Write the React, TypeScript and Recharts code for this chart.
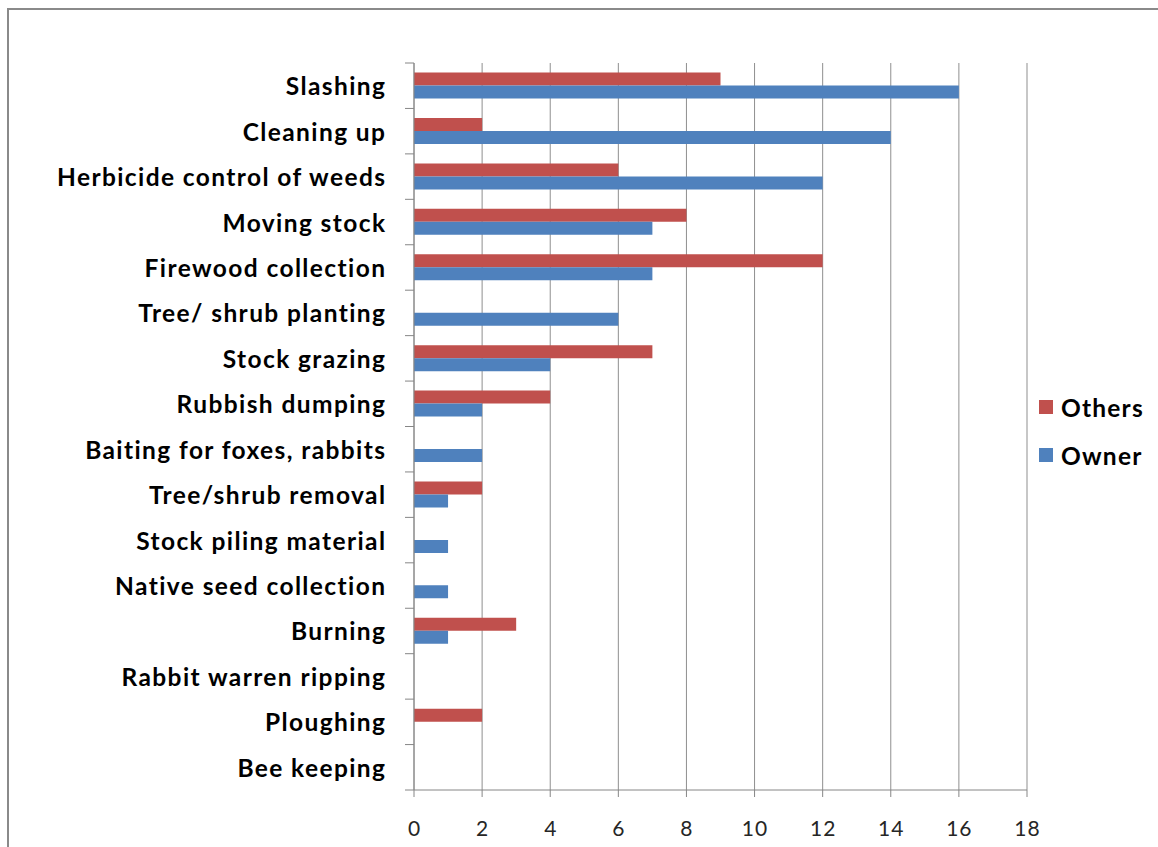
import React from "react";
import { BarChart, Bar, XAxis, YAxis, CartesianGrid, Legend } from "recharts";

const categories = [
  "Slashing",
  "Cleaning up",
  "Herbicide control of weeds",
  "Moving stock",
  "Firewood collection",
  "Tree/ shrub planting",
  "Stock grazing",
  "Rubbish dumping",
  "Baiting for foxes, rabbits",
  "Tree/shrub removal",
  "Stock piling material",
  "Native seed collection",
  "Burning",
  "Rabbit warren ripping",
  "Ploughing",
  "Bee keeping",
];

const othersValues = [9, 2, 6, 8, 12, 0, 7, 4, 0, 2, 0, 0, 3, 0, 2, 0];
const ownerValues = [16, 14, 12, 7, 7, 6, 4, 2, 2, 1, 1, 1, 1, 0, 0, 0];

const xTicks = [0, 2, 4, 6, 8, 10, 12, 14, 16, 18];

const data = categories.map((name, i) => ({
  name,
  Others: othersValues[i],
  Owner: ownerValues[i],
}));

const OTHERS_COLOR = "#C0504D";
const OWNER_COLOR = "#4F81BD";
const AXIS_COLOR = "#868686";
const FONT = "Lato, 'Open Sans', sans-serif";

const Y_TICK_SIZE = 9;
const Y_TICK_MARGIN = 20;

// Category label plus Excel-style tick marks on the band boundaries.
const CategoryTick = (props: any) => {
  const { x, y, payload, index, visibleTicksCount } = props;
  const half = payload && payload.offset ? payload.offset : 22.7;
  const axisX = x + Y_TICK_MARGIN + Y_TICK_SIZE;
  const isLast = index === (visibleTicksCount ?? categories.length) - 1;
  return (
    <g>
      <line
        x1={axisX - Y_TICK_SIZE}
        x2={axisX}
        y1={y - half}
        y2={y - half}
        stroke={AXIS_COLOR}
        strokeWidth={1}
      />
      {isLast && (
        <line
          x1={axisX - Y_TICK_SIZE}
          x2={axisX}
          y1={y + half}
          y2={y + half}
          stroke={AXIS_COLOR}
          strokeWidth={1}
        />
      )}
      <text
        x={x + 1.4}
        y={y}
        textAnchor="end"
        dominantBaseline="central"
        fill="#000"
        fontFamily={FONT}
        fontWeight={700}
        fontSize={24.5}
        style={{ letterSpacing: 1.4 }}
      >
        {payload.value}
      </text>
    </g>
  );
};

const ValueTick = (props: any) => {
  const { x, y, payload } = props;
  return (
    <text
      x={x + 0.5}
      y={y}
      dy="0.72em"
      textAnchor="middle"
      fill="#262626"
      fontFamily={FONT}
      fontSize={21}
      style={{ letterSpacing: 1 }}
    >
      {payload.value}
    </text>
  );
};

const LegendContent = (props: any) => {
  const items = props.payload || [];
  return (
    <div
      style={{
        fontFamily: FONT,
        fontSize: 24.5,
        fontWeight: 700,
        letterSpacing: 1.2,
        color: "#000",
      }}
    >
      {items.map((item: any) => (
        <div
          key={item.value}
          style={{ display: "flex", alignItems: "center", height: 48 }}
        >
          <span
            style={{
              display: "inline-block",
              width: 14,
              height: 14,
              background: item.color,
              marginRight: 8,
            }}
          />
          <span>{item.value}</span>
        </div>
      ))}
    </div>
  );
};

export default function App() {
  return (
    <div
      style={{
        position: "absolute",
        left: 0,
        top: 0,
        width: 1158,
        height: 847,
        overflow: "hidden",
        background: "#fff",
      }}
    >
      <div
        style={{
          position: "absolute",
          left: 7,
          top: 8,
          width: 1300,
          height: 1000,
          border: "2px solid #8a8a8a",
          boxSizing: "border-box",
        }}
      />
      <div style={{ position: "absolute", left: 0, top: 0 }}>
        <BarChart
          width={1158}
          height={847}
          data={data}
          layout="vertical"
          margin={{ top: 63, right: 131, bottom: 27, left: 0 }}
          barCategoryGap="21%"
          barGap={0}
        >
          <CartesianGrid horizontal={false} stroke="#8f8f8f" />
          <XAxis
            type="number"
            domain={[0, 18]}
            ticks={xTicks}
            interval={0}
            stroke={AXIS_COLOR}
            tickSize={7}
            tickMargin={24}
            tick={<ValueTick />}
          />
          <YAxis
            type="category"
            dataKey="name"
            width={414}
            interval={0}
            stroke={AXIS_COLOR}
            tickLine={false}
            tickSize={Y_TICK_SIZE}
            tickMargin={Y_TICK_MARGIN}
            tick={<CategoryTick />}
          />
          <Legend
            layout="horizontal"
            verticalAlign="middle"
            align="center"
            content={<LegendContent />}
            wrapperStyle={{ left: 1039, top: 383, width: 119 }}
          />
          <Bar dataKey="Others" fill={OTHERS_COLOR} isAnimationActive={false} />
          <Bar dataKey="Owner" fill={OWNER_COLOR} isAnimationActive={false} />
        </BarChart>
      </div>
    </div>
  );
}
